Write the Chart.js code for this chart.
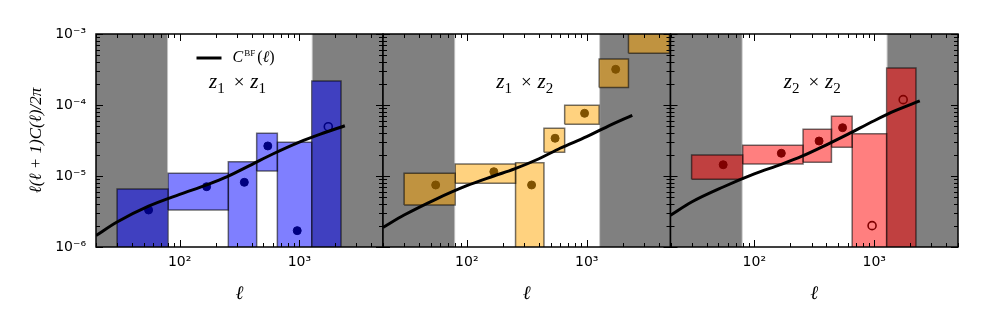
<!DOCTYPE html>
<html>
<head>
<meta charset="utf-8">
<script src="https://cdn.jsdelivr.net/npm/chart.js@4.4.1/dist/chart.umd.min.js"></script>
<style>
  html, body { margin: 0; padding: 0; background: #fff; }
  #wrap { position: relative; width: 981px; height: 327px; }
  #wrap canvas { position: absolute; left: 0; top: 0; }
</style>
</head>
<body>
<div id="wrap">
  <canvas id="c11" width="981" height="327"></canvas>
  <canvas id="c12" width="981" height="327"></canvas>
  <canvas id="c22" width="981" height="327"></canvas>
</div>
<script>
/* ---- data ---- */
const ellEdges   = [30, 80, 255, 440, 655, 1270, 2230, 4900];
const ellCenters = [55, 168, 347, 545, 960, 1745];
const maskLow    = [10, 80];      // excluded ell ranges (gray)
const maskHigh   = [1270, 8000];
const curveEll   = [20, 30, 55, 100, 168, 250, 400, 600, 1000, 1500, 2400];

// z1 x z1
const curve11 = [1.45e-6, 2.25e-6, 3.75e-6, 5.5e-6, 7.5e-6, 9.8e-6, 1.45e-5, 2.04e-5, 3.0e-5, 3.89e-5, 5.1e-5];
const lo11    = [1e-7, 3.32e-6, 1e-7, 1.18e-5, 1e-7, 1e-7];
const hi11    = [6.56e-6, 1.09e-5, 1.59e-5, 3.99e-5, 2.98e-5, 2.18e-4];
const pts11   = [3.32e-6, 7.07e-6, 8.15e-6, 2.65e-5, 1.70e-6, 4.95e-5];
const open11  = [false, false, false, false, false, true];

// z1 x z2
const curve12 = [1.89e-6, 2.82e-6, 4.7e-6, 7.3e-6, 1.0e-5, 1.26e-5, 1.75e-5, 2.46e-5, 3.58e-5, 5.0e-5, 7.16e-5];
const lo12    = [3.9e-6, 7.89e-6, 1e-7, 2.16e-5, 5.35e-5, 1.77e-4, 5.35e-4];
const hi12    = [1.09e-5, 1.47e-5, 1.54e-5, 4.7e-5, 9.9e-5, 4.44e-4, 2e-3];
const pts12   = [7.47e-6, 1.15e-5, 7.47e-6, 3.4e-5, 7.64e-5, 3.18e-4];
const open12  = [false, false, false, false, false, false];

// z2 x z2
const curve22 = [2.8e-6, 4.3e-6, 7.0e-6, 1.07e-5, 1.46e-5, 1.9e-5, 2.75e-5, 3.85e-5, 6.0e-5, 8.3e-5, 1.14e-4];
const lo22    = [8.98e-6, 1.47e-5, 1.56e-5, 2.54e-5, 1e-7, 1e-7];
const hi22    = [1.98e-5, 2.7e-5, 4.55e-5, 6.93e-5, 3.94e-5, 3.32e-4];
const pts22   = [1.44e-5, 2.09e-5, 3.11e-5, 4.79e-5, 2.0e-6, 1.19e-4];
const open22  = [false, false, false, false, true, true];

const xTicks = [100, 1000];
const yTicks = [1e-6, 1e-5, 1e-4, 1e-3];

/* ---- styling ---- */
const SERIF = '"Liberation Serif", "DejaVu Serif", serif';
const SANS = '"DejaVu Sans", sans-serif';
const SUP = { '-': '\u207B', '0': '\u2070', '1': '\u00B9', '2': '\u00B2', '3': '\u00B3',
  '4': '\u2074', '5': '\u2075', '6': '\u2076', '7': '\u2077', '8': '\u2078', '9': '\u2079' };

function powLabel(v) {
  const e = String(Math.round(Math.log10(v)));
  return '10' + e.split('').map(c => SUP[c]).join('');
}

function rect(x0, x1, lo, hi) {
  return [{x: x0, y: lo}, {x: x0, y: hi}, {x: x1, y: hi}, {x: x1, y: lo}, {x: x0, y: lo}];
}

function logSteps(scale) {
  const out = [];
  const e0 = Math.floor(Math.log10(scale.min));
  const e1 = Math.ceil(Math.log10(scale.max));
  for (let e = e0; e <= e1; e++) {
    for (let k = 1; k < 10; k++) {
      const v = k * Math.pow(10, e);
      if (v >= scale.min * 0.999 && v <= scale.max * 1.001) out.push([v, k === 1]);
    }
  }
  return out;
}

// inward ticks on all four sides + frame
const frameTicks = {
  id: 'frameTicks',
  afterDatasetsDraw(chart) {
    const {ctx, chartArea: a, scales: {x, y}} = chart;
    ctx.save();
    ctx.strokeStyle = '#000';
    ctx.lineWidth = 1;
    ctx.beginPath();
    logSteps(x).forEach(([v, major]) => {
      const px = Math.round(x.getPixelForValue(v)) + 0.5;
      const len = major ? 7 : 4;
      ctx.moveTo(px, a.bottom); ctx.lineTo(px, a.bottom - len);
      ctx.moveTo(px, a.top); ctx.lineTo(px, a.top + len);
    });
    logSteps(y).forEach(([v, major]) => {
      const py = Math.round(y.getPixelForValue(v)) + 0.5;
      const len = major ? 7 : 4;
      ctx.moveTo(a.left, py); ctx.lineTo(a.left + len, py);
      ctx.moveTo(a.right, py); ctx.lineTo(a.right - len, py);
    });
    ctx.stroke();
    ctx.lineWidth = 1.5;
    ctx.strokeRect(a.left, a.top, a.right - a.left, a.bottom - a.top);
    ctx.restore();
  }
};

function drawRuns(ctx, runs, left, baseline) {
  let x = left;
  runs.forEach(r => {
    ctx.font = r.font;
    ctx.fillText(r.text, x, baseline + (r.dy || 0));
    x += ctx.measureText(r.text).width + (r.gap || 0);
  });
  return x - left;
}
function runsWidth(ctx, runs) {
  return runs.reduce((w, r) => { ctx.font = r.font; return w + ctx.measureText(r.text).width + (r.gap || 0); }, 0);
}

// panel label (z_i x z_j) and legend
const panelText = {
  id: 'panelText',
  afterDraw(chart, args, opts) {
    const {ctx, chartArea: a} = chart;
    const cx = (a.left + a.right) / 2 - 2;
    ctx.save();
    ctx.fillStyle = '#000';
    ctx.textBaseline = 'alphabetic';
    const zf = 'italic 21px ' + SERIF, sf = '15px ' + SERIF;
    const runs = [
      {text: 'z', font: zf}, {text: opts.i, font: sf, dy: 5, gap: 9},
      {text: '\u00D7', font: '19px ' + SERIF, gap: 6},
      {text: 'z', font: zf}, {text: opts.j, font: sf, dy: 5}
    ];
    drawRuns(ctx, runs, cx - runsWidth(ctx, runs) / 2, a.top + 54);

    if (opts.legend) {
      ctx.strokeStyle = '#000';
      ctx.lineWidth = 3;
      ctx.beginPath();
      ctx.moveTo(cx - 41, a.top + 24);
      ctx.lineTo(cx - 16, a.top + 24);
      ctx.stroke();
      drawRuns(ctx, [
        {text: 'C', font: 'italic 16px ' + SERIF, gap: 1},
        {text: 'BF', font: '9px ' + SERIF, dy: -6, gap: 2},
        {text: '(', font: '16px ' + SERIF},
        {text: '\u2113', font: 'italic 16px ' + SERIF},
        {text: ')', font: '16px ' + SERIF}
      ], cx - 5, a.top + 28);
    }
    ctx.restore();
  }
};

const PANELS = [
  {id: 'c11', i: '1', j: '1', rgb: '0,0,255', dot: '#000080', curve: curve11, lo: lo11, hi: hi11, pts: pts11, open: open11,
   pad: {left: 0, right: 598}, yAxis: true, legend: true},
  {id: 'c12', i: '1', j: '2', rgb: '255,165,0', dot: '#7f5200', curve: curve12, lo: lo12, hi: hi12, pts: pts12, open: open12,
   pad: {left: 383, right: 310.5}, yAxis: false, legend: false},
  {id: 'c22', i: '2', j: '2', rgb: '255,0,0', dot: '#800000', curve: curve22, lo: lo22, hi: hi22, pts: pts22, open: open22,
   pad: {left: 670.5, right: 23}, yAxis: false, legend: false}
];

function buildPanel(p) {
  const datasets = [];

  // best-fit curve (top)
  datasets.push({
    data: curveEll.map((l, k) => ({x: l, y: p.curve[k]})),
    borderColor: '#000', borderWidth: 3, pointRadius: 0,
    cubicInterpolationMode: 'monotone', fill: false, order: 0
  });

  // measured points
  datasets.push({
    data: p.pts.map((v, k) => ({x: ellCenters[k], y: v})),
    showLine: false, pointRadius: 4,
    pointBackgroundColor: p.open.map(o => o ? 'rgba(0,0,0,0)' : p.dot),
    pointBorderColor: p.dot,
    pointBorderWidth: p.open.map(o => o ? 1.6 : 1),
    order: 1
  });

  // error boxes
  p.lo.forEach((lo, k) => {
    datasets.push({
      data: rect(ellEdges[k], ellEdges[k + 1], lo, p.hi[k]),
      fill: 'shape', backgroundColor: `rgba(${p.rgb},0.5)`,
      borderColor: 'rgba(0,0,0,0.55)', borderWidth: 1.5, pointRadius: 0, tension: 0,
      order: 2
    });
  });

  // excluded scales
  [maskLow, maskHigh].forEach(m => {
    datasets.push({
      data: rect(m[0], m[1], 1e-8, 1e-2),
      fill: 'shape', backgroundColor: 'rgb(128,128,128)',
      borderColor: 'rgba(255,255,255,0.55)', borderWidth: 2, pointRadius: 0, tension: 0,
      order: 3
    });
  });

  new Chart(document.getElementById(p.id), {
    type: 'line',
    data: { datasets },
    plugins: [frameTicks, panelText],
    options: {
      responsive: false,
      animation: false,
      events: [],
      layout: { padding: { left: p.pad.left, right: p.pad.right, top: 34, bottom: 0 } },
      plugins: {
        legend: { display: false },
        tooltip: { enabled: false },
        panelText: { i: p.i, j: p.j, legend: p.legend }
      },
      scales: {
        x: {
          type: 'logarithmic', min: 20, max: 5000,
          afterBuildTicks: axis => { axis.ticks = xTicks.map(v => ({value: v})); },
          afterFit: scale => { scale.height = 80; },
          grid: { display: false, drawTicks: false },
          border: { display: false },
          ticks: { callback: v => powLabel(v), color: '#000', font: { family: SANS, size: 14 }, padding: 7, maxRotation: 0, autoSkip: false },
          title: { display: true, text: '\u2113', color: '#000', font: { family: SERIF, size: 19, style: 'italic' }, padding: { top: 0, bottom: 22 } }
        },
        y: {
          type: 'logarithmic', min: 1e-6, max: 1e-3,
          display: p.yAxis,
          afterBuildTicks: axis => { axis.ticks = yTicks.map(v => ({value: v})); },
          afterFit: scale => { scale.width = p.yAxis ? 96 : 0; },
          grid: { display: false, drawTicks: false },
          border: { display: false },
          ticks: { callback: v => powLabel(v), color: '#000', font: { family: SANS, size: 14 }, padding: 10, autoSkip: false },
          title: { display: true, text: '\u2113(\u2113 + 1)C(\u2113)/2\u03C0', color: '#000', font: { family: SERIF, size: 17, style: 'italic' }, padding: { top: 26, bottom: 0 } }
        }
      }
    }
  });
}

PANELS.forEach(buildPanel);
</script>
</body>
</html>
